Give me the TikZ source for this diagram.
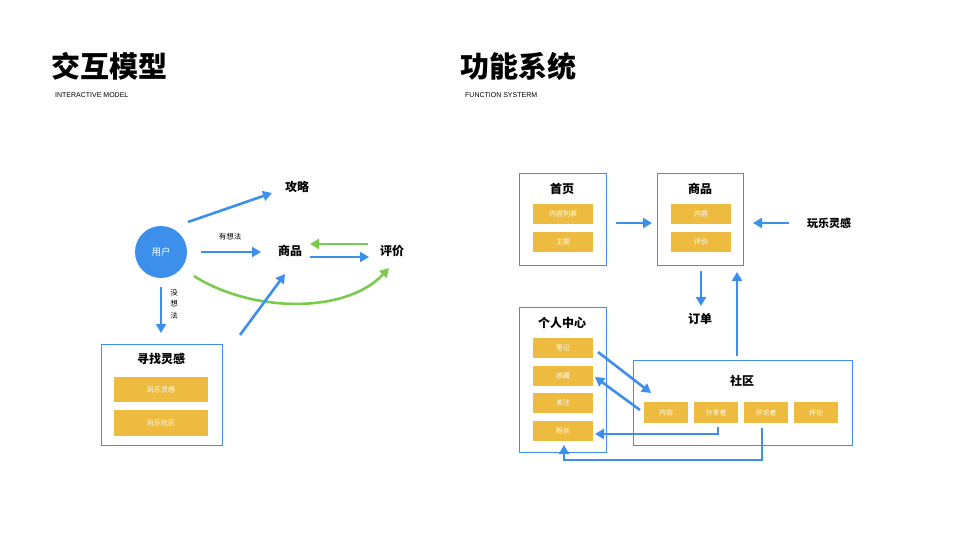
\documentclass[tikz,border=0pt]{standalone}
\usepackage{fontspec}
\setmainfont{Noto Sans CJK SC}
\newfontfamily\lat{Liberation Sans}
\usetikzlibrary{arrows.meta}
\definecolor{bl}{HTML}{3D8FEC}
\definecolor{yl}{HTML}{ECBB3F}
\definecolor{gr}{HTML}{7BCB4B}
\begin{document}
\begin{tikzpicture}[x=1pt,y=-1pt,
  arr/.style={line width=2.6pt,-{Triangle[length=9pt,width=10pt]}},
  box/.style={draw=bl,line width=1.3pt},
  yb/.style={fill=yl,text=white,font=\fontsize{7}{8}\selectfont,inner sep=0pt},
  t/.style={font=\bfseries\fontsize{12}{14}\selectfont},
  s/.style={font=\fontsize{7.5}{9}\selectfont}]
\useasboundingbox (0,0) rectangle (960,540);
% titles
\node[anchor=west,font=\bfseries\fontsize{29}{32}\selectfont,inner sep=0] (tl) at (51,66) {交互模型};
\node[anchor=west,font=\lat\fontsize{7}{8}\selectfont,inner sep=0] (tl2) at (55,95) {INTERACTIVE MODEL};
\node[anchor=west,font=\bfseries\fontsize{29}{32}\selectfont,inner sep=0] (tr) at (460,66) {功能系统};
\node[anchor=west,font=\lat\fontsize{7}{8}\selectfont,inner sep=0] (tr2) at (465,95) {FUNCTION SYSTERM};
% left
\node[circle,fill=bl,minimum size=52pt,text=white,font=\fontsize{9.5}{10}\selectfont] (user) at (161,252) {用户};
\node[t] (gl) at (297,187) {攻略};
\node[t] (sp) at (290,251) {商品};
\node[t] (pj) at (392,251) {评价};
\node[s] (yxf) at (230,237) {有想法};
\node[s,align=center,font=\fontsize{7.5}{11.5}\selectfont] (mxf) at (174,304) {没\\想\\法};
\coordinate (a1) at (188,222); \coordinate (a2) at (272,193);
\draw[arr,bl] (a1) -- (a2);
\coordinate (b1) at (201,252); \coordinate (b2) at (261,252);
\draw[arr,bl] (b1) -- (b2);
\coordinate (c1) at (368,244); \coordinate (c2) at (310,244);
\draw[arr,gr] (c1) -- (c2);
\coordinate (d1) at (310,257); \coordinate (d2) at (369,257);
\draw[arr,bl] (d1) -- (d2);
\coordinate (e1) at (194,276); \coordinate (e2) at (389,268);
\draw[arr,gr] (e1) .. controls (250,312) and (345,315) .. (e2);
\coordinate (f1) at (161,287); \coordinate (f2) at (161,333);
\draw[arr,bl] (f1) -- (f2);
\node[box,minimum width=121pt,minimum height=101pt,anchor=north west] (xz) at (101,344) {};
\node[t] (xzt) at (161,359) {寻找灵感};
\node[yb,minimum width=94pt,minimum height=25pt] (y1) at (161,389.5) {玩乐灵感};
\node[yb,minimum width=94pt,minimum height=26pt] (y2) at (161,423) {玩乐社区};
\coordinate (g1) at (240,335); \coordinate (g2) at (285,274);
\draw[arr,bl] (g1) -- (g2);
% right
\node[box,minimum width=87pt,minimum height=92pt,anchor=north west] (sy) at (519,173) {};
\node[t] (syt) at (562,189) {首页};
\node[yb,minimum width=60pt,minimum height=20pt] (sy1) at (563,214) {内容列表};
\node[yb,minimum width=60pt,minimum height=20pt] (sy2) at (563,242) {主题};
\node[box,minimum width=86pt,minimum height=92pt,anchor=north west] (spb) at (657,173) {};
\node[t] (spt) at (700,189) {商品};
\node[yb,minimum width=60pt,minimum height=20pt] (sp1) at (701,214) {内容};
\node[yb,minimum width=60pt,minimum height=20pt] (sp2) at (701,242) {评价};
\coordinate (h1) at (616,223); \coordinate (h2) at (652,223);
\draw[arr,bl] (h1) -- (h2);
\node[t,font=\bfseries\fontsize{11}{13}\selectfont] (wl) at (829,223) {玩乐灵感};
\coordinate (i1) at (789,223); \coordinate (i2) at (753,223);
\draw[arr,bl] (i1) -- (i2);
\coordinate (j1) at (701,271); \coordinate (j2) at (701,306);
\draw[arr,bl] (j1) -- (j2);
\node[t] (dd) at (700,319) {订单};
\coordinate (k1) at (737,356); \coordinate (k2) at (737,272);
\draw[arr,bl] (k1) -- (k2);
\node[box,minimum width=87pt,minimum height=145pt,anchor=north west] (gr) at (519,307) {};
\node[t] (grt) at (562,323) {个人中心};
\node[yb,minimum width=60pt,minimum height=20pt] (g1n) at (563,348) {笔记};
\node[yb,minimum width=60pt,minimum height=20pt] (g2n) at (563,376) {收藏};
\node[yb,minimum width=60pt,minimum height=20pt] (g3n) at (563,403) {关注};
\node[yb,minimum width=60pt,minimum height=20pt] (g4n) at (563,431) {粉丝};
\node[box,minimum width=219pt,minimum height=85pt,anchor=north west] (sq) at (633,360) {};
\node[t] (sqt) at (742,381) {社区};
\node[yb,minimum width=44pt,minimum height=21pt] (q1) at (666,412.5) {内容};
\node[yb,minimum width=44pt,minimum height=21pt] (q2) at (716,412.5) {分享者};
\node[yb,minimum width=44pt,minimum height=21pt] (q3) at (766,412.5) {评论者};
\node[yb,minimum width=44pt,minimum height=21pt] (q4) at (816,412.5) {评论};
\coordinate (l1) at (598,352); \coordinate (l2) at (651,393);
\draw[arr,bl] (l1) -- (l2);
\coordinate (m1) at (640,410); \coordinate (m2) at (595,377);
\draw[arr,bl] (m1) -- (m2);
\coordinate (n1) at (718,427); \coordinate (n2) at (595,434);
\draw[arr,bl] (n1) -- (718,434) -- (n2);
\coordinate (o1) at (762,428); \coordinate (o2) at (564,445);
\draw[arr,bl] (o1) -- (762,460) -- (564,460) -- (o2);
\end{tikzpicture}
\end{document}
